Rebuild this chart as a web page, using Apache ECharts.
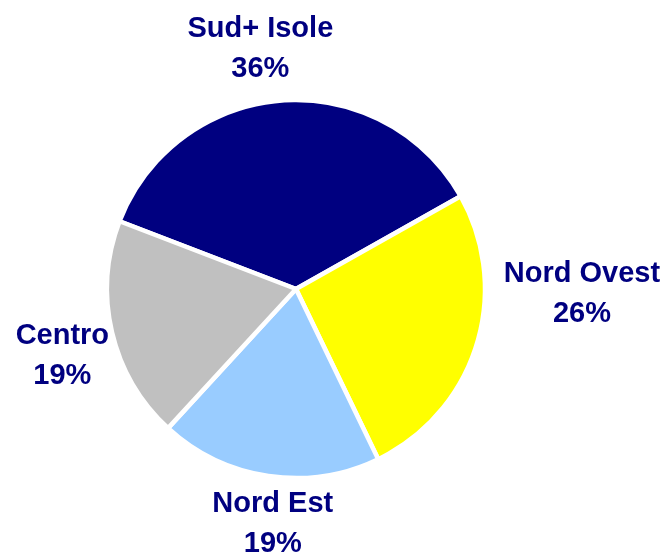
<!DOCTYPE html>
<html>
<head>
<meta charset="utf-8">
<script src="https://cdn.jsdelivr.net/npm/echarts@6/dist/echarts.min.js"></script>
<style>
  html, body { margin: 0; padding: 0; background: #fff; }
  #main { width: 668px; height: 552px; }
</style>
</head>
<body>
<div id="main"></div>
<script>
const regions = ["Sud+ Isole", "Nord Ovest", "Nord Est", "Centro"]
const shares = [36, 26, 19, 19]
const sliceColors = ["#000080", "#FFFF00", "#99CCFF", "#C0C0C0"]

// small nudges from the default outside label spot, [dx, dy]
const labelNudge = [[-13, 0], [51, -67], [17, -3], [6, 12]]

const chart = echarts.init(document.getElementById("main"))

const option = {
  animation: false,
  backgroundColor: "#fff",
  series: [
    {
      type: "pie",
      center: [296, 289],
      radius: 189,
      startAngle: 159,
      clockwise: true,
      avoidLabelOverlap: false,
      silent: true,
      data: regions.map((name, i) => ({
        name: name,
        value: shares[i],
        itemStyle: { color: sliceColors[i] },
      })),
      itemStyle: {
        borderColor: "#fff",
        borderWidth: 4.5,
      },
      label: {
        show: true,
        position: "outside",
        formatter: "{b}\n{c}%",
        color: "#000080",
        fontFamily: "Liberation Sans, Arial, sans-serif",
        fontWeight: "bold",
        fontSize: 29,
        lineHeight: 40,
      },
      labelLine: {
        show: false,
        length: 52,
        length2: 0,
      },
      labelLayout: function (params) {
        const n = labelNudge[params.dataIndex]
        return { align: "center", dx: n[0], dy: n[1] }
      },
    },
  ],
}

option && chart.setOption(option)
</script>
</body>
</html>
